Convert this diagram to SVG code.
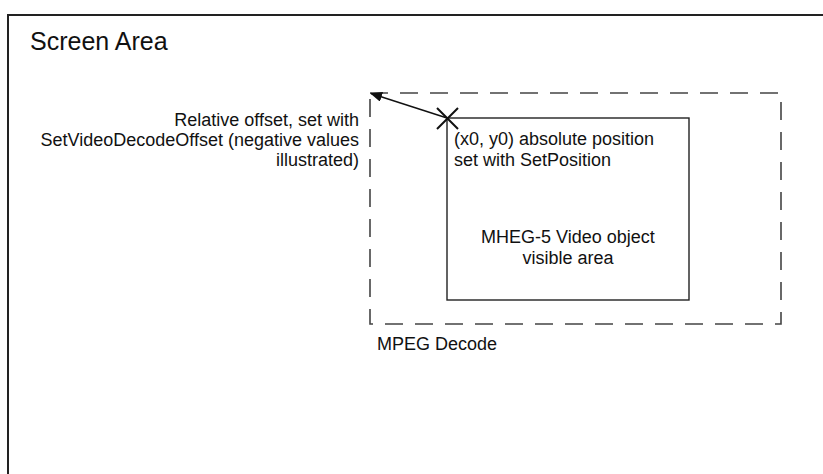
<svg xmlns="http://www.w3.org/2000/svg" width="823" height="474" viewBox="0 0 823 474">
<style>
text{font-family:"Liberation Sans",Arial,sans-serif;fill:#111;font-size:18px}
.big{font-size:25px}
.r{text-anchor:end}
.c{text-anchor:middle}
.screen{fill:none;stroke:#222;stroke-width:2}
.dash{fill:none;stroke:#444;stroke-width:1.6;stroke-dasharray:18 12}
.solid{fill:none;stroke:#222;stroke-width:1.4}
.ln{stroke:#111;stroke-width:1.4;fill:none}
.x{stroke:#111;stroke-width:2;fill:none}
</style>
<defs>
<marker id="ah" viewBox="0 0 12 10" refX="11" refY="5" markerWidth="12" markerHeight="10" markerUnits="userSpaceOnUse" orient="auto">
<path d="M0,0 L12,5 L0,10 z" fill="#111"/>
</marker>
</defs>
<g id="screen-area">
<rect class="screen" x="8" y="15" width="830" height="480"/>
<text class="big" x="30" y="50">Screen Area</text>
</g>
<g id="mpeg-decode">
<rect class="dash" x="370" y="93" width="411" height="231"/>
<text x="377" y="350">MPEG Decode</text>
</g>
<g id="video-object">
<rect class="solid" x="447" y="118" width="242" height="182"/>
<text x="454" y="145">(x0, y0) absolute position</text>
<text x="454" y="166">set with SetPosition</text>
<text class="c" x="568" y="243">MHEG-5 Video object</text>
<text class="c" x="568" y="264">visible area</text>
</g>
<g id="origin-mark">
<path class="x" d="M437,108 L458,129 M458,108 L437,129"/>
</g>
<g id="offset-label">
<text class="r" x="359" y="126">Relative offset, set with</text>
<text class="r" x="359" y="146">SetVideoDecodeOffset (negative values</text>
<text class="r" x="359" y="166">illustrated)</text>
</g>
<g id="connectors">
<line class="ln" x1="447" y1="118" x2="371" y2="93.5" marker-end="url(#ah)"/>
</g>
</svg>
